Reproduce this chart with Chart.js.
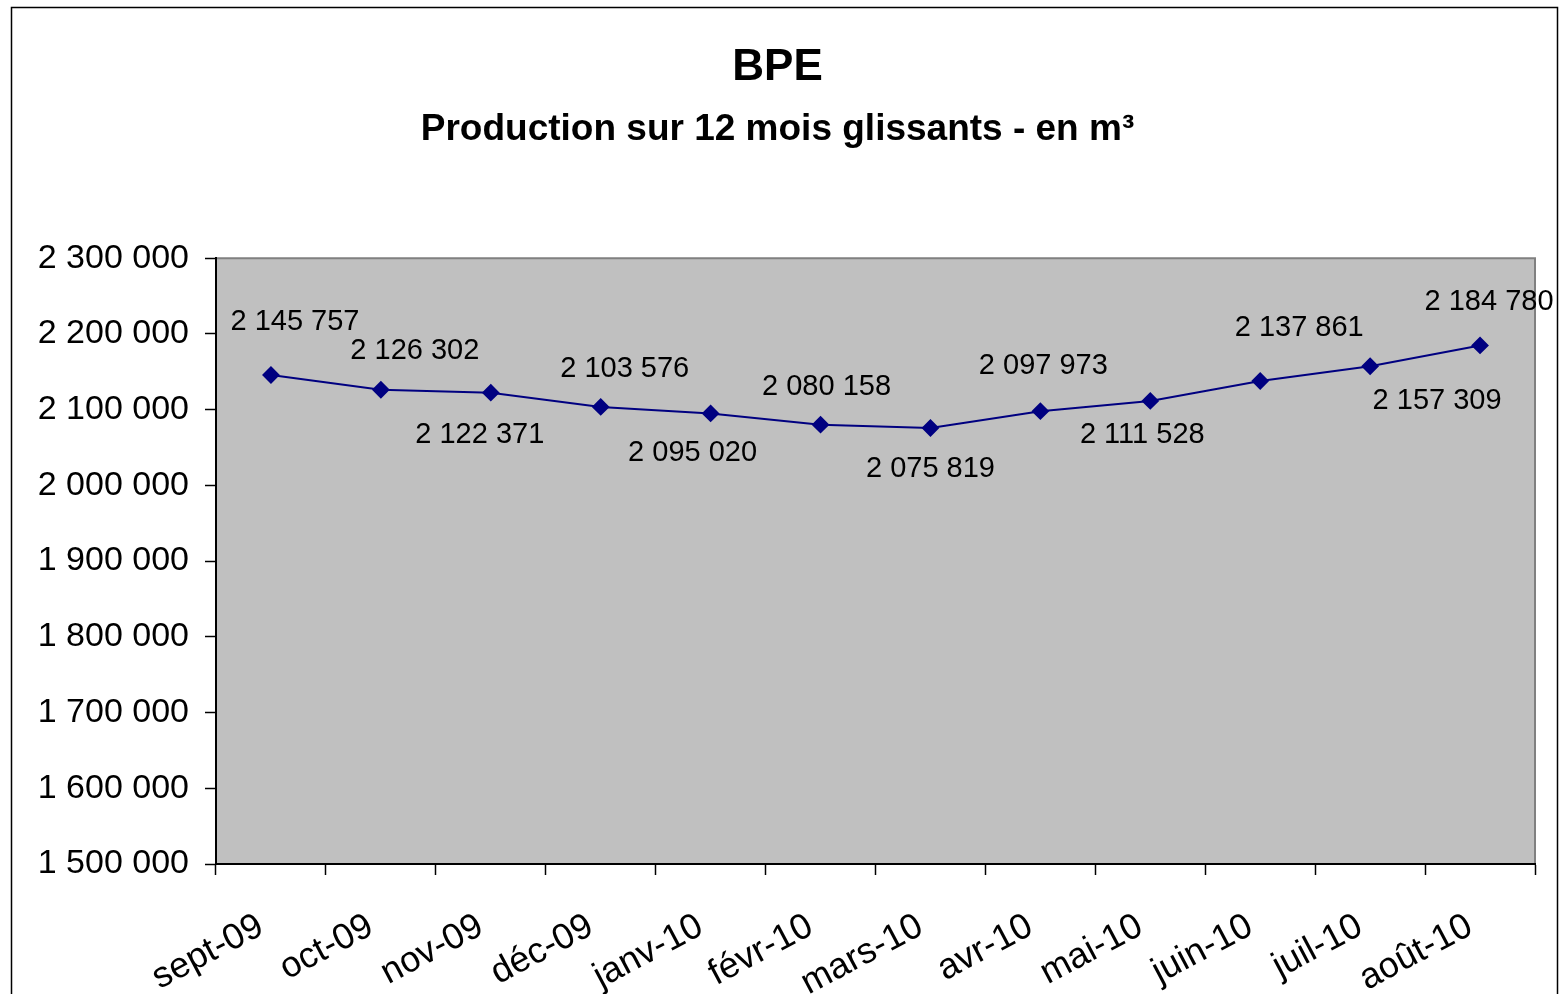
<!DOCTYPE html>
<html>
<head>
<meta charset="utf-8">
<script src="https://cdn.jsdelivr.net/npm/chart.js@4"></script>
<style>
    html, body { margin: 0; padding: 0; background: #ffffff; }
    #wrap { width: 1562px; height: 994px; }
</style>
</head>
<body>
<div id="wrap"><canvas id="bpeChart" width="1562" height="994"></canvas></div>
<script>
// Data
const months = ['sept-09', 'oct-09', 'nov-09', 'déc-09', 'janv-10', 'févr-10',
                'mars-10', 'avr-10', 'mai-10', 'juin-10', 'juil-10', 'août-10'];
const production = [2145757, 2126302, 2122371, 2103576, 2095020, 2080158,
                    2075819, 2097973, 2111528, 2137861, 2157309, 2184780];
const yTicks = [1500000, 1600000, 1700000, 1800000, 1900000, 2000000, 2100000, 2200000, 2300000];

// where each value label sits relative to its point (px)
const labelShift = [[24, -53], [34, -39], [-11, 42], [24, -38], [-18, 40], [6, -38],
                    [0, 41], [3, -45], [-8, 34], [39, -53], [67, 35], [9, -43]];

const COLORS = {
    plotBg: '#c0c0c0',
    plotBorder: '#808080',
    line: '#000080',
    text: '#000000',
};
const FONT = "'Liberation Sans', Arial, sans-serif";

const fmt = v => String(v).replace(/\B(?=(\d{3})+(?!\d))/g, ' ');

// grey plot area + frame
const plotBackground = {
    id: 'plotBackground',
    beforeDraw(chart) {
        const { ctx, chartArea: a } = chart;
        ctx.save();
        ctx.fillStyle = COLORS.plotBg;
        ctx.fillRect(a.left, a.top, a.right - a.left, a.bottom - a.top);
        ctx.strokeStyle = COLORS.plotBorder;
        ctx.lineWidth = 2;
        ctx.beginPath();
        ctx.moveTo(a.left, a.top);
        ctx.lineTo(a.right, a.top);
        ctx.lineTo(a.right, a.bottom);
        ctx.stroke();
        ctx.strokeStyle = '#000';
        ctx.lineWidth = 1.5;
        ctx.strokeRect(11.5, 7.5, 1546, 1000);
        ctx.restore();
    }
};

// value labels
const valueLabels = {
    id: 'valueLabels',
    afterDatasetsDraw(chart) {
        const { ctx } = chart;
        const meta = chart.getDatasetMeta(0);
        ctx.save();
        ctx.font = '29px ' + FONT;
        ctx.fillStyle = COLORS.text;
        ctx.textAlign = 'center';
        ctx.textBaseline = 'middle';
        meta.data.forEach((pt, i) => {
            const [dx, dy] = labelShift[i];
            ctx.fillText(fmt(production[i]), pt.x + dx, pt.y + dy);
        });
        ctx.restore();
    }
};

new Chart(document.getElementById('bpeChart'), {
    type: 'line',
    data: {
        labels: months,
        datasets: [{
            data: production,
            borderColor: COLORS.line,
            backgroundColor: COLORS.line,
            borderWidth: 2,
            tension: 0,
            pointStyle: 'rectRot',
            pointRadius: 7.5,
            pointHoverRadius: 7.5,
            clip: false
        }]
    },
    options: {
        responsive: false,
        animation: false,
        events: [],
        layout: { padding: { left: 20, right: 27, top: 0, bottom: 0 } },
        plugins: {
            legend: { display: false },
            tooltip: { enabled: false },
            title: {
                display: true,
                text: 'BPE',
                color: COLORS.text,
                font: { family: FONT, size: 44, weight: 'bold' },
                padding: { top: 41, bottom: 14 }
            },
            subtitle: {
                display: true,
                text: 'Production sur 12 mois glissants - en m³',
                color: COLORS.text,
                font: { family: FONT, size: 37, weight: 'bold' },
                padding: { top: 0, bottom: 106 }
            }
        },
        scales: {
            y: {
                min: 1500000,
                max: 2300000,
                afterFit: s => { s.width = 196; },
                afterBuildTicks: s => { s.ticks = yTicks.map(v => ({ value: v })); },
                border: { color: '#000', width: 2 },
                grid: { drawOnChartArea: false, tickLength: 11, color: '#000', tickWidth: 1.5 },
                ticks: {
                    color: COLORS.text,
                    padding: 16,
                    font: { family: FONT, size: 34 },
                    callback: v => fmt(v)
                }
            },
            x: {
                offset: true,
                afterFit: s => { s.height = 130; },
                border: { color: '#000', width: 2 },
                grid: { drawOnChartArea: false, offset: true, tickLength: 11, color: '#000', tickWidth: 1.5 },
                ticks: {
                    color: COLORS.text,
                    padding: 30,
                    labelOffset: -10,
                    minRotation: 28,
                    maxRotation: 28,
                    autoSkip: false,
                    font: { family: FONT, size: 36 }
                }
            }
        }
    },
    plugins: [plotBackground, valueLabels]
});
</script>
</body>
</html>
